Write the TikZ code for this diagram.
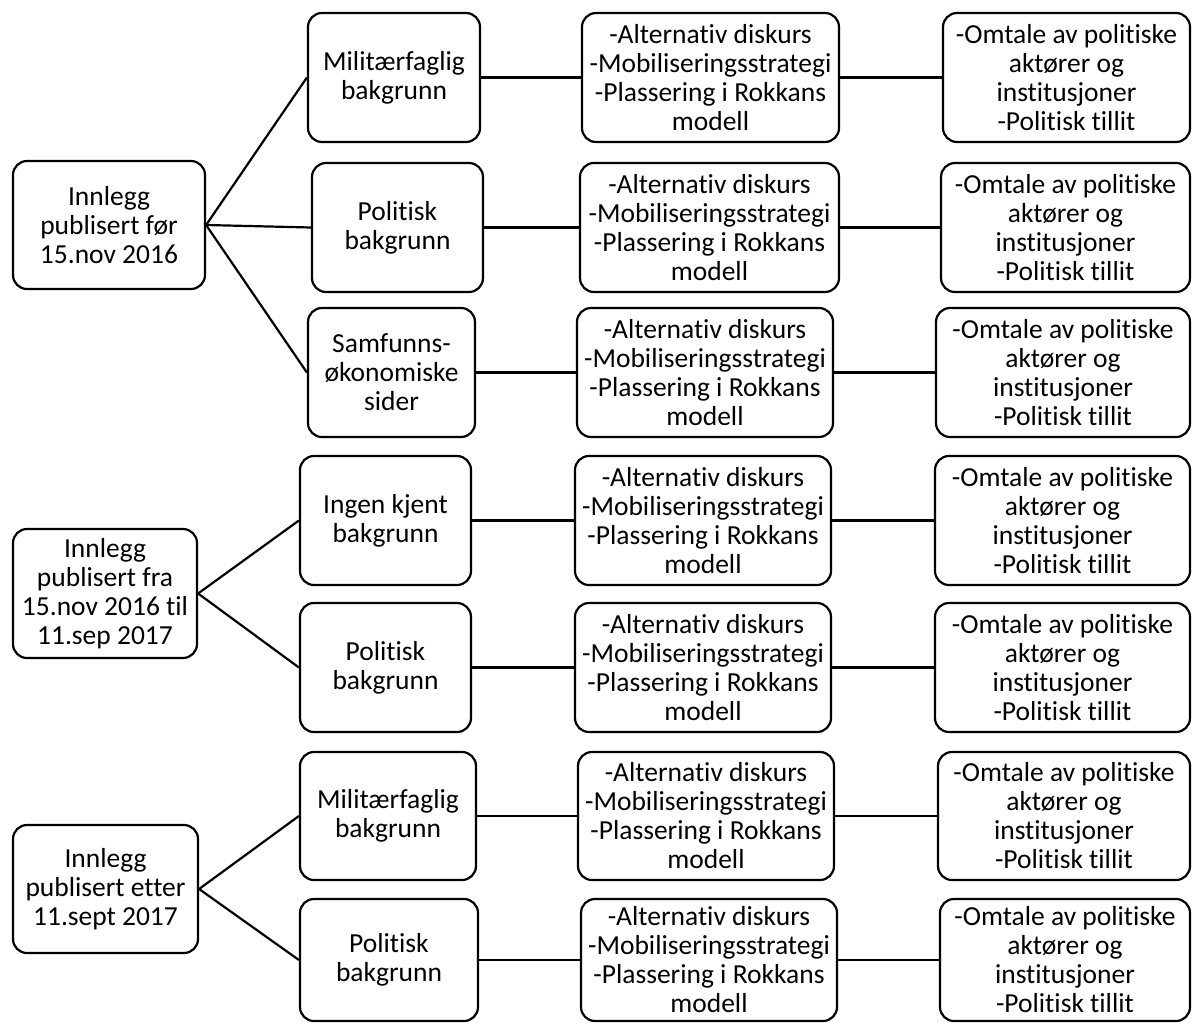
\documentclass[tikz,border=0pt]{standalone}
\usepackage{fontspec}
\setmainfont{Carlito}[Ligatures={NoCommon,NoContextual}]
\newcommand\alttext{-Alternativ diskurs\\-Mobiliseringsstrategi\\-Plassering i Rokkans\\modell}
\newcommand\omttext{-Omtale av politiske\\aktører og\\institusjoner\\-Politisk tillit}
\tikzset{
  box/.style={draw, line width=2.2pt, rounded corners=14pt, align=center, inner sep=0pt,
    font=\fontsize{27.5}{29}\selectfont, minimum height=129pt},
  link/.style={line width=2.2pt},
}
\begin{document}
\begin{tikzpicture}[x=1pt, y=-1pt]
\useasboundingbox (0,0) rectangle (1195,1023);
% column 1
\node[box, minimum width=192pt, minimum height=128pt] (A) at (109,225) {Innlegg\\publisert før\\15.nov 2016};
\node[box, minimum width=184pt] (B) at (105,593.5) {Innlegg\\publisert fra\\15.nov 2016 til\\11.sep 2017};
\node[box, minimum width=185pt, minimum height=128pt] (C) at (105.5,889) {Innlegg\\publisert etter\\11.sept 2017};
% column 2
\node[box, minimum width=172pt] (m1) at (394,77.5) {Militærfaglig\\bakgrunn};
\node[box, minimum width=171pt] (m2) at (397.5,227.5) {Politisk\\bakgrunn};
\node[box, minimum width=167pt] (m3) at (391.5,372.5) {Samfunns-\\økonomiske\\sider};
\node[box, minimum width=171pt] (m4) at (385.5,520.5) {Ingen kjent\\bakgrunn};
\node[box, minimum width=171pt] (m5) at (385.5,667.5) {Politisk\\bakgrunn};
\node[box, minimum width=176pt, minimum height=128pt] (m6) at (388,816) {Militærfaglig\\bakgrunn};
\node[box, minimum width=178pt, minimum height=122pt] (m7) at (389,960) {Politisk\\bakgrunn};
% column 3
\node[box, minimum width=257pt] (d1) at (710.5,77.5) {\alttext};
\node[box, minimum width=259pt] (d2) at (709.5,227.5) {\alttext};
\node[box, minimum width=256pt] (d3) at (705,372.5) {\alttext};
\node[box, minimum width=256pt] (d4) at (703,520.5) {\alttext};
\node[box, minimum width=256pt] (d5) at (703,667.5) {\alttext};
\node[box, minimum width=256pt, minimum height=128pt] (d6) at (706,816) {\alttext};
\node[box, minimum width=256pt, minimum height=122pt] (d7) at (709,960) {\alttext};
% column 4
\node[box, minimum width=247pt] (o1) at (1066.5,77.5) {\omttext};
\node[box, minimum width=249pt] (o2) at (1065.5,227.5) {\omttext};
\node[box, minimum width=254pt] (o3) at (1063,372.5) {\omttext};
\node[box, minimum width=255pt] (o4) at (1062.5,520.5) {\omttext};
\node[box, minimum width=255pt] (o5) at (1062.5,667.5) {\omttext};
\node[box, minimum width=252pt, minimum height=128pt] (o6) at (1064,816) {\omttext};
\node[box, minimum width=250pt, minimum height=122pt] (o7) at (1065,960) {\omttext};
% connectors
\draw[link] (A.east) -- (m1.west);
\draw[link] (A.east) -- (m2.west);
\draw[link] (A.east) -- (m3.west);
\draw[link] (B.east) -- (m4.west);
\draw[link] (B.east) -- (m5.west);
\draw[link] (C.east) -- (m6.west);
\draw[link] (C.east) -- (m7.west);
\foreach \i in {1,...,7}{
  \draw[link] (m\i.east) -- (d\i.west);
  \draw[link] (d\i.east) -- (o\i.west);
}
\end{tikzpicture}
\end{document}
